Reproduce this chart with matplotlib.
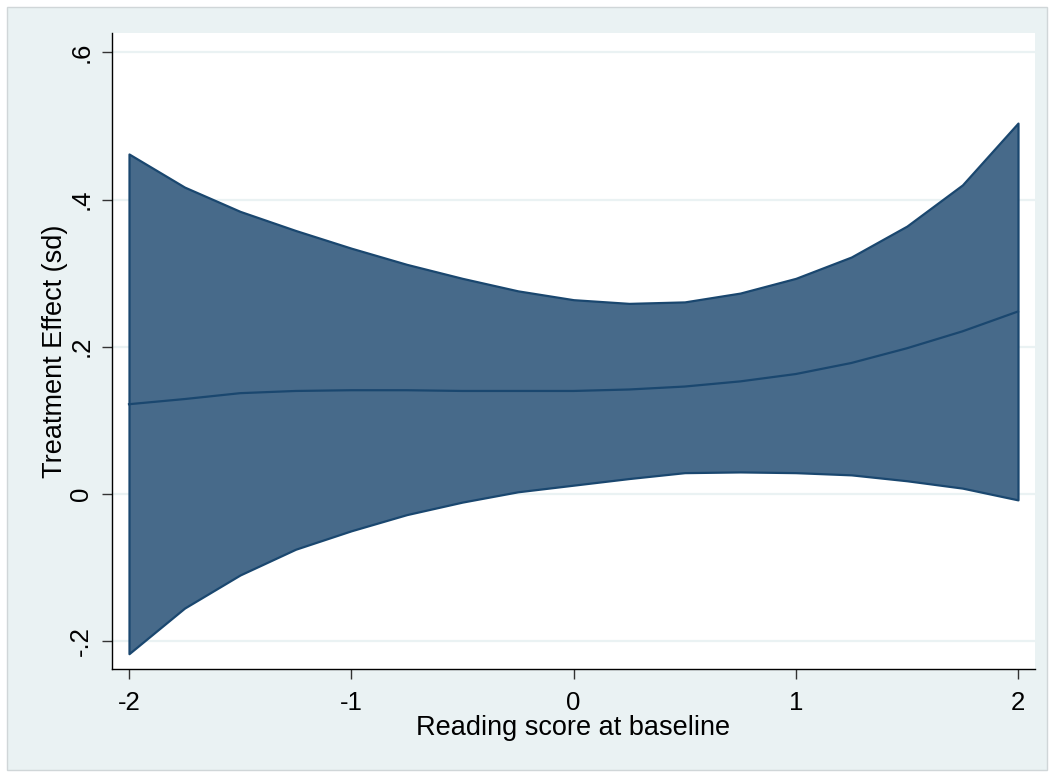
import matplotlib.pyplot as plt
import matplotlib.patches as mpatches
import numpy as np

plt.rcParams['font.family'] = ['Liberation Sans', 'DejaVu Sans']

# baseline reading score (sd)
baseline = [-2.0, -1.75, -1.5, -1.25, -1.0, -0.75, -0.5, -0.25, 0.0,
            0.25, 0.5, 0.75, 1.0, 1.25, 1.5, 1.75, 2.0]
# point estimate of treatment effect
effect = [0.122, 0.129, 0.137, 0.140, 0.141, 0.141, 0.140, 0.140, 0.140,
          0.142, 0.146, 0.153, 0.163, 0.178, 0.198, 0.221, 0.248]
# 95% ci bounds
ci_upper = [0.462, 0.417, 0.384, 0.358, 0.334, 0.312, 0.293, 0.276, 0.264,
            0.259, 0.261, 0.273, 0.293, 0.322, 0.364, 0.420, 0.504]
ci_lower = [-0.217, -0.155, -0.110, -0.075, -0.050, -0.028, -0.011, 0.003, 0.012,
            0.021, 0.029, 0.030, 0.029, 0.026, 0.018, 0.008, -0.008]

xticks = [-2, -1, 0, 1, 2]
xtick_labels = ['-2', '-1', '0', '1', '2']
yticks = [-0.2, 0.0, 0.2, 0.4, 0.6]
ytick_labels = ['-.2', '0', '.2', '.4', '.6']

W, H = 1050, 774
bg = '#EAF2F3'
navy = '#1A476F'
fill_col = '#476A8A'

fig = plt.figure(figsize=(W / 100, H / 100), dpi=100, facecolor='white')

# stata-ish outer panel, kept behind the axes
panel = mpatches.Rectangle((7 / W, 4 / H), 1040 / W, 763 / H, transform=fig.transFigure,
                           facecolor=bg, edgecolor='#D0D6D8', linewidth=1.0, zorder=-5)
fig.patches.append(panel)

ax = fig.add_axes([112 / W, 1 - 669 / H, (1035 - 112) / W, (669 - 33) / H])
ax.set_zorder(2)
ax.set_facecolor('white')

for y in yticks:
    ax.axhline(y, color=bg, linewidth=1.6, zorder=1)

ax.fill_between(baseline, ci_lower, ci_upper, facecolor=fill_col, edgecolor=navy,
                linewidth=1.6, zorder=2)
ax.plot(baseline, effect, color=navy, linewidth=1.6, zorder=3)

ax.set_xlim(-2.0765, 2.0765)
ax.set_ylim(-0.2378, 0.6264)

ax.set_xticks(xticks)
ax.set_xticklabels(xtick_labels)
ax.set_yticks(yticks)
ax.set_yticklabels(ytick_labels, rotation=90, va='center')

ax.tick_params(axis='both', direction='out', length=7.5, width=1, color='#333333',
               labelsize=18.5, labelcolor='black')
ax.tick_params(axis='x', pad=8)
ax.tick_params(axis='y', pad=6)

for s in ['top', 'right']:
    ax.spines[s].set_visible(False)
for s in ['left', 'bottom']:
    ax.spines[s].set_color('black')
    ax.spines[s].set_linewidth(1.0)

ax.set_xlabel('Reading score at baseline', fontsize=19.5, labelpad=0)
ax.set_ylabel('Treatment Effect (sd)', fontsize=19.5, labelpad=1)

fig.savefig('out.png', dpi=100, facecolor='white')
